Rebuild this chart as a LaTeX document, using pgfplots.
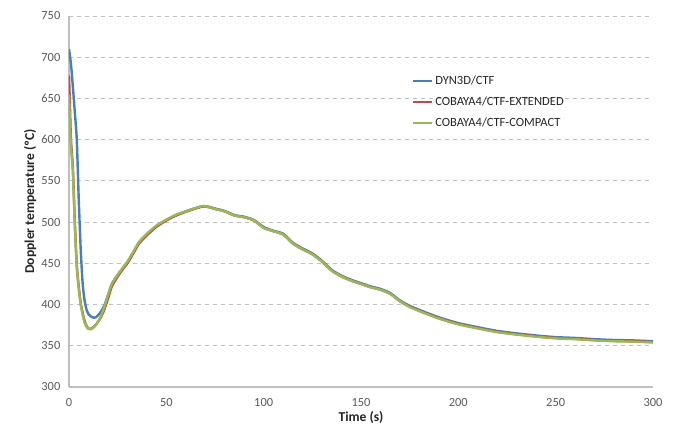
\documentclass[border=0pt]{standalone}
\usepackage{pgfplots}
\pgfplotsset{compat=1.18}
\usepackage{fontspec}
\setmainfont{Carlito}
\definecolor{cblue}{HTML}{4A7EBB}
\definecolor{cred}{HTML}{BE4B48}
\definecolor{cgreen}{HTML}{98B954}
\definecolor{tick}{HTML}{595959}
\definecolor{gridc}{HTML}{BFBFBF}
\begin{document}
\begin{tikzpicture}[x=1pt,y=1pt]
\useasboundingbox (-51.75,-33) rectangle (456,290.25);
\begin{axis}[
  at={(0,0)}, anchor=south west,
  scale only axis, width=438pt, height=278.25pt,
  xmin=0, xmax=300, ymin=300, ymax=750,
  xtick={0,50,...,300}, ytick={300,350,...,750},
  axis x line*=bottom, axis y line*=left,
  axis line style={gridc, line width=0.8pt, -},
  tick style={draw=none},
  ymajorgrids, major grid style={gridc, dashed, line width=0.6pt},
  ticklabel style={font=\fontsize{9.3}{11}\selectfont, text=tick},
  /pgf/number format/assume math mode=true,
  xticklabel style={yshift=-5pt},
  yticklabel style={xshift=-3pt},
  xlabel={\textbf{Time (s)}}, ylabel={\textbf{Doppler temperature (ºC)}},
  label style={font=\fontsize{10.2}{12}\selectfont, text=black!85},
  xlabel style={yshift=3pt},
  ylabel style={yshift=-3pt},
  legend style={draw=none, fill=none, at={(0.58,0.855)}, anchor=north west,
    font=\fontsize{9.4}{11}\selectfont, row sep=3.8pt, text=black!85},
  legend cell align=left,
  legend image code/.code={\draw[#1, line width=1.5pt] (0pt,0pt) -- (14pt,0pt);},
  every axis plot/.append style={line width=1.8pt, smooth, tension=0.4},
]
\addplot[cblue] coordinates {
(0,710)(1,692)(2,664)(3,633)(4,600)(5,528)(6,468)(7,426)(8,405)(9,394)(10,388.5)(11,386)(12,384.5)(13,384)(14,385)(16,390)(18,398)(20,411)(22,425)(25,436)(28,445)(30,451)(33,463)(36,475)(40,485)(45,495)(50,502.5)(55,508.5)(60,513)(65,517)(69,519.5)(72,518.5)(75,516.5)(80,513.5)(85,508.5)(90,506.5)(95,502.5)(100,494)(105,489.5)(110,486)(115,475)(120,468)(125,462)(130,453)(135,442)(140,435)(145,430)(150,426)(155,422)(160,419)(165,414)(170,405)(175,398.5)(180,393.5)(190,384.5)(200,377.5)(210,372.5)(220,368)(230,365)(240,362.5)(250,360.5)(260,359.5)(270,358)(280,357)(290,356.5)(300,355.5)
};
\addlegendentry{DYN3D/CTF}
\addplot[cred] coordinates {
(0,678)(0.5,640)(1,600)(2,565)(3,500)(4,448)(5,422)(6,402)(7,390)(8,380)(9,374)(10,371)(11,370.5)(12,371.5)(13,373.5)(14,376)(16,383)(18,393)(20,407)(22,422)(25,434)(28,444)(30,450)(33,462)(36,474)(40,484)(45,494.5)(50,502)(55,508)(60,512.5)(65,516.5)(69,519)(72,518)(75,516)(80,513)(85,508)(90,506)(95,502)(100,493)(105,489)(110,485)(115,474)(120,467)(125,461)(130,452)(135,441)(140,434)(145,429)(150,425)(155,421)(160,418)(165,413)(170,404)(175,397.5)(180,392.5)(190,383.5)(200,376.5)(210,371.5)(220,367)(230,364)(240,361.5)(250,359.5)(260,358.5)(270,357)(280,356)(290,355.5)(300,354.5)
};
\addlegendentry{COBAYA4/CTF-EXTENDED}
\addplot[cgreen] coordinates {
(0,655)(0.5,620)(1,592)(2,560)(3,495)(4,445)(5,420)(6,400)(7,388)(8,378)(9,373)(10,370.5)(11,370)(12,371)(13,373)(14,376)(16,384)(18,396)(20,411)(22,425)(25,436)(28,446)(30,452)(33,464)(36,476)(40,486)(45,496)(50,503)(55,509)(60,513)(65,517)(69,519.5)(72,518)(75,516)(80,513)(85,508)(90,506)(95,502)(100,493)(105,489)(110,485)(115,474)(120,467)(125,461)(130,452)(135,441)(140,434)(145,429)(150,425)(155,421)(160,418)(165,413)(170,404)(175,397)(180,392)(190,383)(200,376)(210,371)(220,366.5)(230,363.5)(240,361)(250,359)(260,358)(270,356.5)(280,355.5)(290,355)(300,354)
};
\addlegendentry{COBAYA4/CTF-COMPACT}
\end{axis}
\end{tikzpicture}
\end{document}
